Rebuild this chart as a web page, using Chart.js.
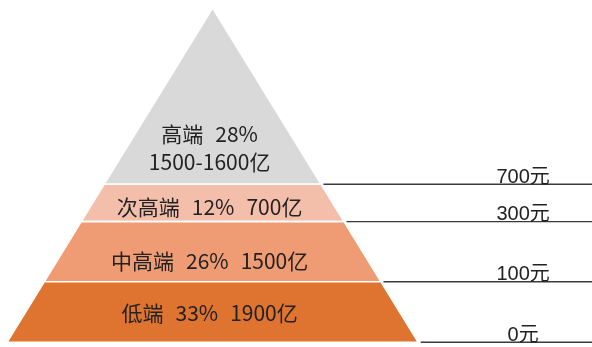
<!DOCTYPE html>
<html><head><meta charset="utf-8">
<script src="https://cdn.jsdelivr.net/npm/chart.js@4/dist/chart.umd.min.js"></script>
<style>html,body{margin:0;padding:0;background:#fff}#wrap{width:592px;height:347px;position:relative}</style>
</head><body><div id="wrap"><canvas id="c" width="592" height="347"></canvas></div>
<script>
// tiers from bottom to top
const tierNames = ['低端', '中高端', '次高端', '高端'];
const tierShares = ['33%', '26%', '12%', '28%'];
const tierMarkets = ['1900亿', '1500亿', '700亿', '1500-1600亿'];
// price thresholds at the bottom edge of each tier
const priceLabels = ['0元', '100元', '300元', '700元'];
// tier boundaries on the (hidden) pyramid-height axis, 0 = base, 100 = apex
const bandEdges = [0, 18.1, 36.1, 47.3, 100];

const tierColors = ['#DE7430', '#EF9B74', '#F4BFAA', '#D9D9D9'];
const labelLevels = [8.8, 24.4, 40.5, 58.2];
const X_MIN = -1.034, X_MAX = 1.845;

const half = h => 1 - h / 100;

const datasets = [];
tierNames.forEach((n, i) => {
  const lo = bandEdges[i], hi = bandEdges[i + 1];
  datasets.push({
    type: 'line',
    label: n,
    data: [
      {x: -half(lo), y: lo}, {x: half(lo), y: lo},
      {x: half(hi), y: hi}, {x: -half(hi), y: hi}, {x: -half(lo), y: lo}
    ],
    backgroundColor: tierColors[i],
    borderColor: '#ffffff',
    borderWidth: 1.6,
    fill: 'shape',
    pointRadius: 0,
    tension: 0,
    order: 2
  });
});
priceLabels.forEach((p, i) => {
  const h = bandEdges[i];
  datasets.push({
    type: 'line',
    label: p,
    data: [{x: half(h) + 0.012, y: h}, {x: X_MAX, y: h}],
    borderColor: '#3a3a3a',
    borderWidth: 1.4,
    fill: false,
    pointRadius: 0,
    order: 1
  });
});

const textPlugin = {
  id: 'pyramidText',
  afterDatasetsDraw(chart) {
    const ctx = chart.ctx;
    const xs = chart.scales.x, ys = chart.scales.y;
    ctx.save();
    ctx.fillStyle = '#222';
    ctx.textBaseline = 'middle';
    const cjk = '21px "Noto Sans CJK SC", sans-serif';
    ctx.font = cjk;
    const drawWords = (words, cx, cy, gap) => {
      const widths = words.map(w => ctx.measureText(w).width);
      const total = widths.reduce((a, b) => a + b, 0) + gap * (words.length - 1);
      let x = cx - total / 2;
      ctx.textAlign = 'left';
      words.forEach((w, k) => { ctx.fillText(w, x, cy); x += widths[k] + gap; });
    };
    const cx = xs.getPixelForValue(0) - 3;
    tierNames.forEach((n, i) => {
      const cy = ys.getPixelForValue(labelLevels[i]);
      if (i === tierNames.length - 1) {
        drawWords([n, tierShares[i]], cx, cy - 14, 12);
        drawWords([tierMarkets[i]], cx, cy + 14, 12);
      } else {
        drawWords([n, tierShares[i], tierMarkets[i]], cx, cy, 12);
      }
    });
    ctx.font = '20px "Liberation Sans", "Noto Sans CJK SC", sans-serif';
    ctx.textAlign = 'center';
    ctx.textBaseline = 'alphabetic';
    priceLabels.forEach((p, i) => {
      const y = ys.getPixelForValue(bandEdges[i]) - 1.5;
      ctx.fillText(p, xs.getPixelForValue(1.51), y);
    });
    ctx.restore();
  }
};

new Chart(document.getElementById('c'), {
  type: 'scatter',
  data: {datasets},
  options: {
    responsive: false,
    animation: false,
    events: [],
    layout: {padding: 0},
    plugins: {legend: {display: false}, tooltip: {enabled: false}, title: {display: false}},
    scales: {
      x: {type: 'linear', min: X_MIN, max: X_MAX, display: false},
      y: {type: 'linear', min: -1.4, max: 102.4, display: false}
    }
  },
  plugins: [textPlugin]
});
</script>
</body></html>
